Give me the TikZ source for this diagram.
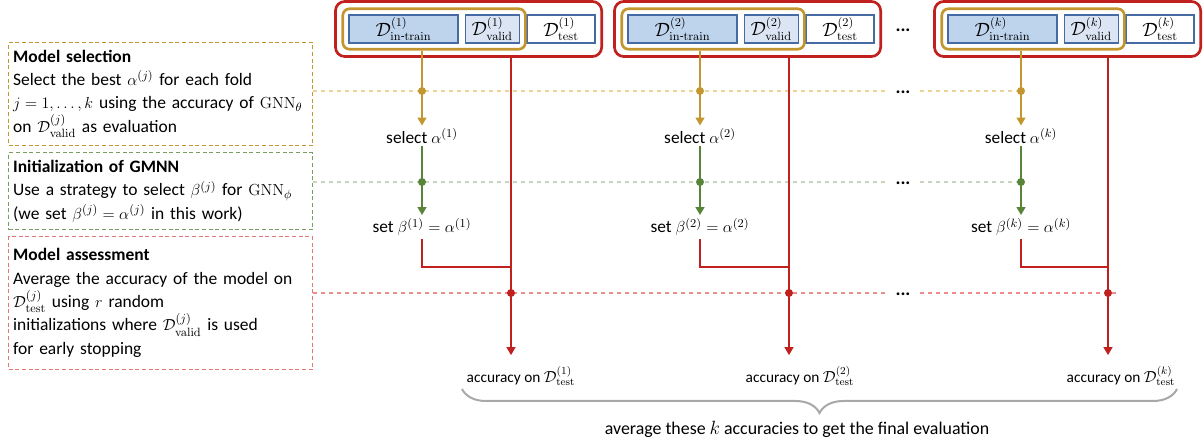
\documentclass[tikz,border=0pt]{standalone}
\usepackage{amsmath}
\usepackage[no-math]{fontspec}
\setmainfont{Carlito}
\usetikzlibrary{arrows.meta,positioning,fit,decorations.pathreplacing}

\definecolor{foldred}{RGB}{192,32,30}
\definecolor{foldgold}{RGB}{196,150,48}
\definecolor{initgreen}{RGB}{88,132,58}
\definecolor{partblue}{RGB}{70,106,164}
\definecolor{trainfill}{RGB}{190,212,236}
\definecolor{validfill}{RGB}{220,229,244}
\definecolor{golddash}{RGB}{236,212,150}
\definecolor{greendash}{RGB}{200,214,190}
\definecolor{reddash}{RGB}{238,140,140}
\definecolor{bracegray}{RGB}{168,168,168}

\newcommand{\Dset}[2]{\mathcal{D}^{(#1)}_{\mathrm{#2}}}

\begin{document}
\begin{tikzpicture}[x=0.75pt,y=-0.75pt,>={Triangle[length=6pt,width=6.5pt]},
	every node/.style={font=\fontsize{13.4}{17.6}\selectfont},
	part/.style={draw=partblue,line width=0.9pt,minimum height=21pt,inner sep=0pt,
		font=\fontsize{13.5}{14}\selectfont},
	trainpart/.style={part,fill=trainfill,minimum width=81.75pt},
	validpart/.style={part,fill=validfill,minimum width=40.5pt},
	testpart/.style={part,fill=white,minimum width=51pt},
	goldbox/.style={draw=foldgold,line width=2pt,rounded corners=5pt,inner sep=4.2pt},
	redbox/.style={draw=foldred,line width=2pt,rounded corners=7pt,inner sep=4.5pt},
	stagebox/.style={line width=0.8pt,dash pattern=on 3pt off 2pt,text width=221pt,
		align=left,inner xsep=3.5pt,inner ysep=3pt,font=\fontsize{13.1}{17.5}\selectfont},
	goldarrow/.style={draw=foldgold,line width=1.6pt},
	greenarrow/.style={draw=initgreen,line width=1.6pt},
	redarrow/.style={draw=foldred,line width=1.6pt},
	step label/.style={inner sep=2pt,font=\fontsize{13}{16}\selectfont},
	acc label/.style={font=\fontsize{11.5}{14}\selectfont,inner sep=2pt},
	more/.style={font=\fontsize{14}{14}\bfseries,inner xsep=7pt}]

	\useasboundingbox (0,0) rectangle (1203,441);

	% the three stages
	\node[stagebox,draw=foldgold,anchor=north west,minimum height=77pt] (selbox) at (8,42)
		{\textbf{Model selection}\\
		Select the best $\alpha^{(j)}$ for each fold\\
		$j=1,\ldots,k$ using the accuracy of $\mathrm{GNN}_\theta$\\
		on $\Dset{j}{valid}$ as evaluation};
	\node[stagebox,draw=initgreen!80!white,minimum height=57.5pt] (initbox) [below=5pt of selbox]
		{\textbf{Initialization of GMNN}\\
		Use a strategy to select $\beta^{(j)}$ for $\mathrm{GNN}_\phi$\\
		(we set $\beta^{(j)}=\alpha^{(j)}$ in this work)};
	\node[stagebox,draw=reddash!80!foldred,minimum height=99.5pt] (assessbox) [below=4.5pt of initbox]
		{\textbf{Model assessment}\\
		Average the accuracy of the model on\\
		$\Dset{j}{test}$ using $r$ random\\
		initializations where $\Dset{j}{valid}$ is used\\
		for early stopping};

	% fold 1
	\node[trainpart] (trainA) at (403.5,29) {$\Dset{1}{in\text{-}train}$};
	\node[validpart] (validA) [right=4.5pt of trainA] {$\Dset{1}{valid}$};
	\node[testpart] (testA) [right=5pt of validA] {$\Dset{1}{test}$};
	\node[goldbox,fit=(trainA)(validA)] (goldA) {};
	\node[redbox,fit=(goldA)(testA)] (redA) {};
	\node[step label] (selA) at (422,136) {select $\alpha^{(1)}$};
	\node[step label] (setA) at (422,227) {set $\beta^{(1)}=\alpha^{(1)}$};
	\node[acc label] (accA) at (521,376) {accuracy on $\Dset{1}{test}$};

	% fold 2
	\node[trainpart] (trainB) at (682.5,29) {$\Dset{2}{in\text{-}train}$};
	\node[validpart] (validB) [right=4.5pt of trainB] {$\Dset{2}{valid}$};
	\node[testpart] (testB) [right=5pt of validB] {$\Dset{2}{test}$};
	\node[goldbox,fit=(trainB)(validB)] (goldB) {};
	\node[redbox,fit=(goldB)(testB)] (redB) {};
	\node[step label] (selB) at (700,136) {select $\alpha^{(2)}$};
	\node[step label] (setB) at (700,227) {set $\beta^{(2)}=\alpha^{(2)}$};
	\node[acc label] (accB) at (800,376) {accuracy on $\Dset{2}{test}$};

	% fold k
	\node[trainpart] (trainC) at (1002.5,29) {$\Dset{k}{in\text{-}train}$};
	\node[validpart] (validC) [right=4.5pt of trainC] {$\Dset{k}{valid}$};
	\node[testpart] (testC) [right=5pt of validC] {$\Dset{k}{test}$};
	\node[goldbox,fit=(trainC)(validC)] (goldC) {};
	\node[redbox,fit=(goldC)(testC)] (redC) {};
	\node[step label] (selC) at (1021,136) {select $\alpha^{(k)}$};
	\node[step label] (setC) at (1021,227) {set $\beta^{(k)}=\alpha^{(k)}$};
	\node[acc label] (accC) at (1121,376) {accuracy on $\Dset{k}{test}$};

	% dots between fold 2 and fold k
	\node[more] (moreTop) at (903,30) {...};
	\node[more] (moreSel) at (903,92) {...};
	\node[more] (moreInit) at (903,183) {...};
	\node[more] (moreAss) at (903,294) {...};

	\coordinate (dotOA) at (422,91);   \coordinate (dotOB) at (700,91);   \coordinate (dotOC) at (1021,91);
	\coordinate (dotGA) at (422,182);  \coordinate (dotGB) at (700,182);  \coordinate (dotGC) at (1021,182);
	\coordinate (dotRA) at (511,293);  \coordinate (dotRB) at (789,293);  \coordinate (dotRC) at (1108,293);
	\coordinate (joinA) at (511,267);  \coordinate (joinB) at (789,267);  \coordinate (joinC) at (1108,267);
	\coordinate (redEnd) at (1120,293);

	% guide lines of the stages
	\draw[golddash,dashed,line width=0.8pt] (selbox.east |- dotOA) -- (moreSel.west |- dotOA)
		(moreSel.east |- dotOA) -- (dotOC);
	\draw[greendash,dashed,line width=0.8pt] (initbox.east |- dotGA) -- (moreInit.west |- dotGA)
		(moreInit.east |- dotGA) -- (dotGC);
	\draw[reddash,dashed,line width=0.8pt] (assessbox.east |- dotRA) -- (moreAss.west |- dotRA)
		(moreAss.east |- dotRA) -- (redEnd);

	% selection
	\draw[goldarrow,->] (goldA.south -| dotOA) -- (selA.north);
	\draw[goldarrow,->] (goldB.south -| dotOB) -- (selB.north);
	\draw[goldarrow,->] (goldC.south -| dotOC) -- (selC.north);

	% initialization
	\draw[greenarrow,->] (selA.south) -- (setA.north);
	\draw[greenarrow,->] (selB.south) -- (setB.north);
	\draw[greenarrow,->] (selC.south) -- (setC.north);

	% assessment
	\draw[redarrow] (setA.south) |- (joinA);
	\draw[redarrow] (setB.south) |- (joinB);
	\draw[redarrow] (setC.south) |- (joinC);
	\draw[redarrow,->,shorten >=6pt] (redA.south -| dotRA) -- (accA.north -| dotRA);
	\draw[redarrow,->,shorten >=6pt] (redB.south -| dotRB) -- (accB.north -| dotRB);
	\draw[redarrow,->,shorten >=6pt] (redC.south -| dotRC) -- (accC.north -| dotRC);

	\fill[foldgold] (dotOA) circle (3pt) (dotOB) circle (3pt) (dotOC) circle (3pt);
	\fill[initgreen] (dotGA) circle (3pt) (dotGB) circle (3pt) (dotGC) circle (3pt);
	\fill[foldred] (dotRA) circle (3pt) (dotRB) circle (3pt) (dotRC) circle (3pt);

	% final average
	\coordinate (braceL) at (462,389);
	\coordinate (braceR) at (1177,389);
	\draw[bracegray,line width=1.5pt,decorate,decoration={brace,amplitude=18pt}] (braceR) -- (braceL);
	\node (avgtxt) at (797,429) {average these $k$ accuracies to get the final evaluation};
\end{tikzpicture}
\end{document}
